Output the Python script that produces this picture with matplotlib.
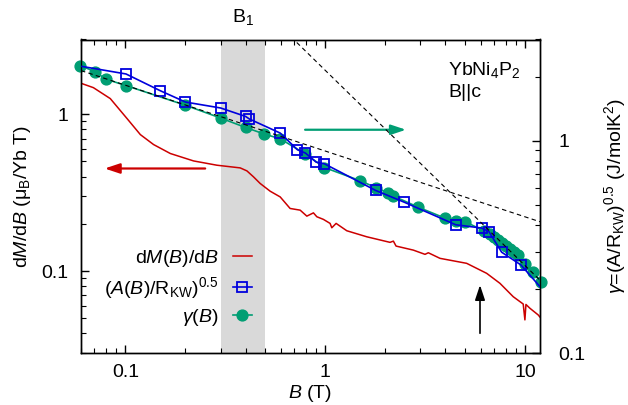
import numpy as np
import matplotlib
matplotlib.use('Agg')
import matplotlib.pyplot as plt
from matplotlib.ticker import LogLocator, FuncFormatter, NullFormatter

plt.rcParams['font.family'] = 'Liberation Sans'
plt.rcParams['mathtext.fontset'] = 'custom'
plt.rcParams['mathtext.rm'] = 'Liberation Sans'
plt.rcParams['mathtext.it'] = 'Liberation Sans:italic'
plt.rcParams['mathtext.bf'] = 'Liberation Sans:bold'
plt.rcParams['font.size'] = 14
plt.rcParams['axes.linewidth'] = 1.0

# dM/dB (left axis, muB / Yb T)
b_dmdb = [0.0607, 0.0692, 0.0841, 0.102, 0.1189, 0.1385, 0.168, 0.2196, 0.2873,
          0.3758, 0.406, 0.438, 0.473, 0.531, 0.596, 0.668, 0.750, 0.810, 0.874,
          0.909, 0.981, 1.059, 1.080, 1.135, 1.284, 1.616, 2.113, 2.196, 2.265,
          2.763, 3.162, 3.285, 3.758, 5.11, 6.435, 7.499, 8.739, 9.806, 10.0,
          10.12, 10.59, 11.65, 11.89]
dmdb = [1.569, 1.479, 1.259, 0.939, 0.742, 0.641, 0.562, 0.504, 0.4733,
        0.455, 0.4355, 0.399, 0.362, 0.323, 0.297, 0.2507, 0.2446, 0.224, 0.235,
        0.222, 0.2135, 0.2013, 0.1888, 0.2013, 0.1807, 0.1654, 0.1524, 0.1552, 0.1443,
        0.136, 0.1278, 0.1308, 0.1205, 0.112, 0.0967, 0.0835, 0.0686, 0.0616, 0.0488,
        0.0612, 0.0579, 0.0525, 0.0509]

# (A(B)/R_KW)^0.5 (right axis, J/molK^2)
b_kw = [0.0607, 0.1008, 0.1496, 0.200, 0.300, 0.400, 0.418, 0.596, 0.727, 0.797,
        0.902, 0.992, 1.793, 2.483, 4.503, 6.07, 6.607, 7.65, 9.55, 11.89]
a_kw = [2.24, 2.064, 1.721, 1.522, 1.427, 1.302, 1.266, 1.087, 0.907, 0.875,
        0.793, 0.779, 0.583, 0.514, 0.402, 0.388, 0.373, 0.2985, 0.260, 0.2055]

# gamma(B) (right axis)
b_gamma = [0.0596, 0.0702, 0.080, 0.1008, 0.200, 0.2996, 0.400, 0.497, 0.596, 0.797,
           0.992, 1.50, 1.79, 2.07, 2.19, 2.93, 3.98, 4.52, 5.01, 6.24, 6.68, 7.00,
           7.33, 7.67, 8.04, 8.41, 8.81, 9.23, 10.0, 10.96, 12.02]
gamma = [2.26, 2.12, 1.95, 1.82, 1.47, 1.28, 1.155, 1.075, 1.022, 0.866,
         0.748, 0.648, 0.602, 0.567, 0.550, 0.486, 0.432, 0.419, 0.416, 0.376, 0.364, 0.3525,
         0.341, 0.330, 0.3197, 0.3094, 0.2995, 0.290, 0.263, 0.241, 0.216]

# power laws gamma = c * B^n (dashed guides)
fit_c = [0.895, 2.15]
fit_n = [-0.31, -0.92]

band = [0.3, 0.5]
xlim = [0.06, 11.9]

RED = '#cc0000'
BLUE = '#0000dd'
GREEN = '#009e73'

fig = plt.figure(figsize=(6.28, 4.05), dpi=100)
ax = fig.add_axes([81 / 628, 52 / 405, 459 / 628, 313.5 / 405])
ax2 = ax.twinx()

ax.set_xscale('log')
ax.set_yscale('log')
ax2.set_yscale('log')
ax.set_xlim(xlim)
ax.set_ylim(0.03, 3)
ax2.set_ylim(0.1, 3)

ax.axvspan(band[0], band[1], color='#d9d9d9', lw=0, zorder=0)

l_red, = ax.plot(b_dmdb, dmdb, color=RED, lw=1.1, zorder=2)

l_gam, = ax2.plot(b_gamma, gamma, color=GREEN, lw=1.2, marker='o', ms=7.8,
                  mec=GREEN, mfc=GREEN, zorder=2, clip_on=False)
l_kw, = ax2.plot(b_kw, a_kw, color=BLUE, lw=1.2, marker='s', ms=7, mfc='none',
                 mec=BLUE, mew=1.3, markevery=list(range(1, len(b_kw) - 1)), zorder=3)

bb = np.logspace(np.log10(xlim[0]), np.log10(xlim[1]), 50)
for c, n in zip(fit_c, fit_n):
    ax2.plot(bb, c * bb ** n, color='k', lw=0.8, ls=(0, (4, 3)), zorder=4)

# arrows
ax.annotate('', xy=(0.0788, 0.451), xytext=(0.251, 0.451),
            arrowprops=dict(arrowstyle='-|>,head_length=0.9,head_width=0.3',
                            mutation_scale=10, color=RED, lw=1.6,
                            shrinkA=0, shrinkB=0))
ax2.annotate('', xy=(2.54, 1.127), xytext=(0.794, 1.127),
             arrowprops=dict(arrowstyle='-|>,head_length=0.9,head_width=0.3',
                             mutation_scale=10, color=GREEN, lw=1.6,
                             shrinkA=0, shrinkB=0))
ax.annotate('', xy=(5.96, 0.0814), xytext=(5.96, 0.0401),
            arrowprops=dict(arrowstyle='-|>,head_length=0.9,head_width=0.3',
                            mutation_scale=10, color='k', lw=1.2,
                            shrinkA=0, shrinkB=0))

# ticks
fmt = FuncFormatter(lambda v, p: '{:g}'.format(v))
for a in (ax, ax2):
    a.yaxis.set_major_locator(LogLocator(base=10))
    a.yaxis.set_minor_locator(LogLocator(base=10, subs=np.arange(2, 10)))
    a.yaxis.set_major_formatter(fmt)
    a.yaxis.set_minor_formatter(NullFormatter())
ax.xaxis.set_major_formatter(fmt)
ax.xaxis.set_minor_formatter(NullFormatter())

ax.tick_params(which='both', direction='in', top=True, right=False)
ax.tick_params(which='major', length=6, width=1.0)
ax.tick_params(which='minor', length=3.5, width=0.8)
ax.tick_params(axis='x', pad=8)
ax.tick_params(axis='y', pad=9)
ax2.tick_params(which='both', direction='in', right=True, left=False)
ax2.tick_params(which='major', length=6, width=1.0, pad=13)
ax2.tick_params(which='minor', length=3.5, width=0.8)

ax.set_xlabel('$B$ (T)', labelpad=1)
ax.set_ylabel('d$M$/d$B$ ($\\mathrm{\\mu}_{\\rm B}$/Yb T)', labelpad=6)
ax2.set_ylabel('$\\gamma$=(A/R$_{\\rm KW}$)$^{0.5}$ (J/molK$^2$)', labelpad=12)

ax.text(np.sqrt(band[0] * band[1]), 1.072, 'B$_1$', transform=ax.get_xaxis_transform(),
        ha='center', va='center')
ax.text(0.80, 0.887, 'YbNi$_4$P$_2$', transform=ax.transAxes, va='baseline')
ax.text(0.80, 0.817, 'B||c', transform=ax.transAxes, va='baseline')

ax2.legend([l_red, l_kw, l_gam],
           ['d$M$($B$)/d$B$', '($A$($B$)/R$_{\\rm KW}$)$^{0.5}$', '$\\gamma$($B$)'],
           loc='center right', bbox_to_anchor=(252 / 628, (405 - 288) / 405),
           bbox_transform=fig.transFigure, frameon=False, markerfirst=False,
           handlelength=1.0, handletextpad=0.7, labelspacing=0.3,
           borderpad=0, borderaxespad=0)

fig.savefig('out.png', dpi=100)
